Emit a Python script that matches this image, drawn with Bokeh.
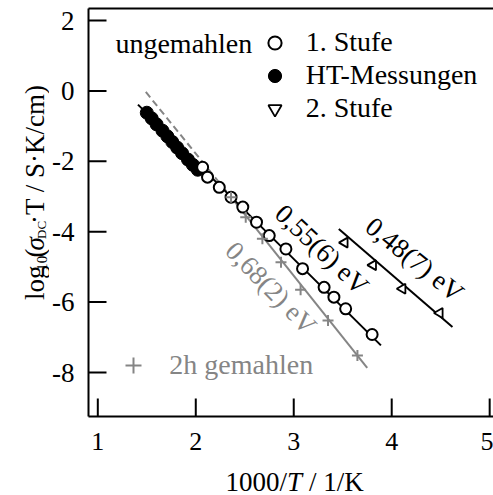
import math
from bokeh.plotting import figure
from bokeh.layouts import column, row
from bokeh.models import Label, Legend, LegendItem, LinearAxis, FixedTicker, Range1d
from bokeh.embed import file_html
from bokeh.resources import INLINE

# ---------------- data ----------------
# HT-Messungen (filled circles)
ht_x = [1.50, 1.55, 1.60, 1.66, 1.71, 1.76, 1.81, 1.86, 1.92, 1.97, 2.02]
ht_y = [-0.62, -0.78, -0.95, -1.13, -1.29, -1.45, -1.61, -1.77, -1.95, -2.10, -2.24]

# 1. Stufe, ungemahlen (open circles)
st1_x = [2.07, 2.12, 2.24, 2.36, 2.48, 2.62, 2.75, 2.92, 3.09, 3.31, 3.41, 3.53, 3.80]
st1_y = [-2.17, -2.45, -2.74, -3.02, -3.30, -3.73, -4.11, -4.49, -5.05, -5.58, -5.86, -6.19, -6.92]

# 2. Stufe (triangles)
st2_x = [3.52, 3.81, 4.11, 4.49]
st2_y = [-4.31, -4.95, -5.62, -6.31]

# 2h gemahlen (plus)
gem_x = [2.36, 2.51, 2.68, 2.87, 3.07, 3.35, 3.65]
gem_y = [-3.02, -3.59, -4.20, -4.87, -5.65, -6.52, -7.52]

# Arrhenius fit lines (end points)
fit1_x = [1.41, 3.89]      # 0,55(6) eV
fit1_y = [-0.39, -7.23]
fit2_x = [3.46, 4.62]      # 0,48(7) eV
fit2_y = [-3.92, -6.71]
fitg_x = [2.36, 3.75]      # 0,68(2) eV
fitg_y = [-3.02, -7.87]
fitg_dash_x = [1.49, 2.36]
fitg_dash_y = [-0.03, -3.02]

x_ticks = [1, 2, 3, 4, 5]
y_ticks = [-8, -6, -4, -2, 0, 2]

# ---------------- layout ----------------
FONT = "Liberation Serif"
FS = "27px"
FS_L = "28px"
GRAY = "#858585"
TICK_LEN = 18

LEFT_W = 49          # width of the y-title strip
MAIN_W, MAIN_H = 444, 462
BOT_H = 495 - MAIN_H # height of the x-title strip

X0, X1 = 0.905, 5.039
Y0, Y1 = -9.25, 2.341
FRAME_L, FRAME_T = 87, 8          # page px
FRAME_W, FRAME_H = 406, 408

def px2x(px):
    return X0 + (px - FRAME_L) * (X1 - X0) / FRAME_W

def py2y(py):
    return Y1 - (py - FRAME_T) * (Y1 - Y0) / FRAME_H

p = figure(width=MAIN_W, height=MAIN_H, output_backend="svg", toolbar_location=None,
           x_range=Range1d(X0, X1), y_range=Range1d(Y0, Y1),
           min_border_left=FRAME_L - LEFT_W, min_border_right=0,
           min_border_top=FRAME_T, min_border_bottom=MAIN_H - FRAME_T - FRAME_H)
p.outline_line_color = None
p.xgrid.visible = False
p.ygrid.visible = False
p.background_fill_color = "white"
p.border_fill_color = "white"

for ax in (p.xaxis[0], p.yaxis[0]):
    ax.axis_label = None
    ax.axis_line_width = 2
    ax.axis_line_color = "black"
    ax.major_tick_line_width = 2
    ax.major_tick_line_color = "black"
    ax.major_tick_in = 0
    ax.major_tick_out = 0
    ax.minor_tick_line_color = None
    ax.major_label_text_font = FONT
    ax.major_label_text_font_size = FS
    ax.major_label_text_color = "black"
p.xaxis[0].ticker = FixedTicker(ticks=x_ticks)
p.yaxis[0].ticker = FixedTicker(ticks=y_ticks)
p.xaxis[0].major_label_overrides = {t: str(t) for t in x_ticks}
p.yaxis[0].major_label_overrides = {t: str(t) for t in y_ticks}
p.xaxis[0].major_label_text_font_size = "26px"
p.xaxis[0].major_label_standoff = 16
p.yaxis[0].major_label_standoff = 14

top_axis = LinearAxis(ticker=FixedTicker(ticks=[]), major_label_text_font_size="0px",
                      major_tick_in=0, major_tick_out=0, minor_tick_line_color=None,
                      axis_line_width=2, axis_line_color="black", major_label_standoff=0,
                      axis_label=None)
p.add_layout(top_axis, "above")

# inward tick marks at the axis tick positions
p.ray(x=x_ticks, y=[Y0] * len(x_ticks), length=TICK_LEN, length_units="screen",
      angle=math.pi / 2, line_color="black", line_width=2)
p.ray(x=[X0] * len(y_ticks), y=y_ticks, length=TICK_LEN, length_units="screen",
      angle=0, line_color="black", line_width=2)

# ---------------- lines ----------------
p.line(fitg_dash_x, fitg_dash_y, line_color=GRAY, line_width=2, line_dash="7 4")
p.line(fitg_x, fitg_y, line_color=GRAY, line_width=2)
p.line(fit1_x, fit1_y, line_color="black", line_width=2)
p.line(fit2_x, fit2_y, line_color="black", line_width=2)

# ---------------- markers ----------------
p.scatter(ht_x, ht_y, marker="circle", size=13, fill_color="black", line_color="black")
p.scatter(st1_x, st1_y, marker="circle", size=11, fill_color="white",
          line_color="black", line_width=2)
p.scatter(gem_x, gem_y, marker="cross", size=11, line_color=GRAY, line_width=2)
p.scatter(st2_x, st2_y, marker="triangle", angle=math.pi / 2, size=10,
          fill_color="white", line_color="black", line_width=1.8)

# legend key glyphs: same data, drawn on an off-screen x range (never visible in the plot)
p.extra_x_ranges = {"off": Range1d(100, 200)}
lg_o = p.scatter(st1_x, st1_y, x_range_name="off", marker="circle",
                 fill_color="white", line_color="black", line_width=2)
lg_f = p.scatter(ht_x, ht_y, x_range_name="off", marker="circle",
                 fill_color="black", line_color="black")
lg_t = p.scatter(st2_x, st2_y, x_range_name="off", marker="inverted_triangle",
                 fill_color="white", line_color="black", line_width=1.8)
lg_g = p.scatter(gem_x, gem_y, x_range_name="off", marker="cross",
                 line_color=GRAY, line_width=2)

leg1 = Legend(items=[LegendItem(label="1. Stufe", renderers=[lg_o]),
                     LegendItem(label="HT-Messungen", renderers=[lg_f]),
                     LegendItem(label="2. Stufe", renderers=[lg_t])],
              location=(169.7, 291.5), padding=0, margin=0, spacing=0,
              glyph_width=33, glyph_height=33, label_height=33, label_standoff=15,
              border_line_color=None, background_fill_alpha=0,
              label_text_font=FONT, label_text_font_size=FS_L, label_text_color="black")
leg2 = Legend(items=[LegendItem(label="2h gemahlen", renderers=[lg_g])],
              location=(25.3, 31), padding=0, margin=0, spacing=0,
              glyph_width=40, glyph_height=40, label_height=40, label_standoff=16,
              border_line_color=None, background_fill_alpha=0,
              label_text_font=FONT, label_text_font_size=FS_L, label_text_color=GRAY)
p.add_layout(leg1)
p.add_layout(leg2)


def lab(fig, text, x, y, **kw):
    opts = dict(text_font=FONT, text_font_size=FS, text_color="black",
                text_align="left", text_baseline="alphabetic")
    opts.update(kw)
    fig.add_layout(Label(x=x, y=y, text=text, **opts))


lab(p, "ungemahlen", px2x(114), py2y(43), text_font_size=FS_L)

# fit annotations (centred)
lab(p, "0,55(6) eV", px2x(321), py2y(249), angle=-0.76, text_align="center",
    text_baseline="middle")
lab(p, "0,48(7) eV", px2x(414), py2y(259), angle=-0.68, text_align="center",
    text_baseline="middle")
lab(p, "0,68(2) eV", px2x(270), py2y(287.5), angle=-0.80, text_align="center",
    text_baseline="middle", text_color=GRAY)


def strip(w, h, x0, y0):
    f = figure(width=w, height=h, output_backend="svg", toolbar_location=None,
               x_range=Range1d(x0, x0 + w), y_range=Range1d(y0 + h, y0),
               x_axis_type=None, y_axis_type=None, min_border=0)
    f.outline_line_color = None
    f.xgrid.visible = False
    f.ygrid.visible = False
    f.background_fill_color = "white"
    f.border_fill_color = "white"
    return f


# y-axis title strip (coordinates = page pixels)
yf = strip(LEFT_W, MAIN_H, 0, 0)
R = math.pi / 2
lab(yf, "log", 34.5, 330, angle=R)
lab(yf, "10", 41.5, 297, angle=R, text_font_size="15px")
lab(yf, "(", 34.5, 282, angle=R)
lab(yf, "σ", 34.5, 274, angle=R, text_font_style="italic")
lab(yf, "DC", 41, 261, angle=R, text_font_size="13px")
lab(yf, "·T / S·K/cm)", 34.5, 244, angle=R)

# x-axis title strip (coordinates = page pixels)
xf = strip(LEFT_W + MAIN_W, BOT_H, 0, MAIN_H)
lab(xf, "1000/", 225, 481)
lab(xf, "T", 286.5, 481, text_font_style="italic")
lab(xf, "/ 1/K", 308.5, 481)

layout = column(row(yf, p, spacing=0), xf, spacing=0)
open("out.html", "w").write(file_html(layout, INLINE))
